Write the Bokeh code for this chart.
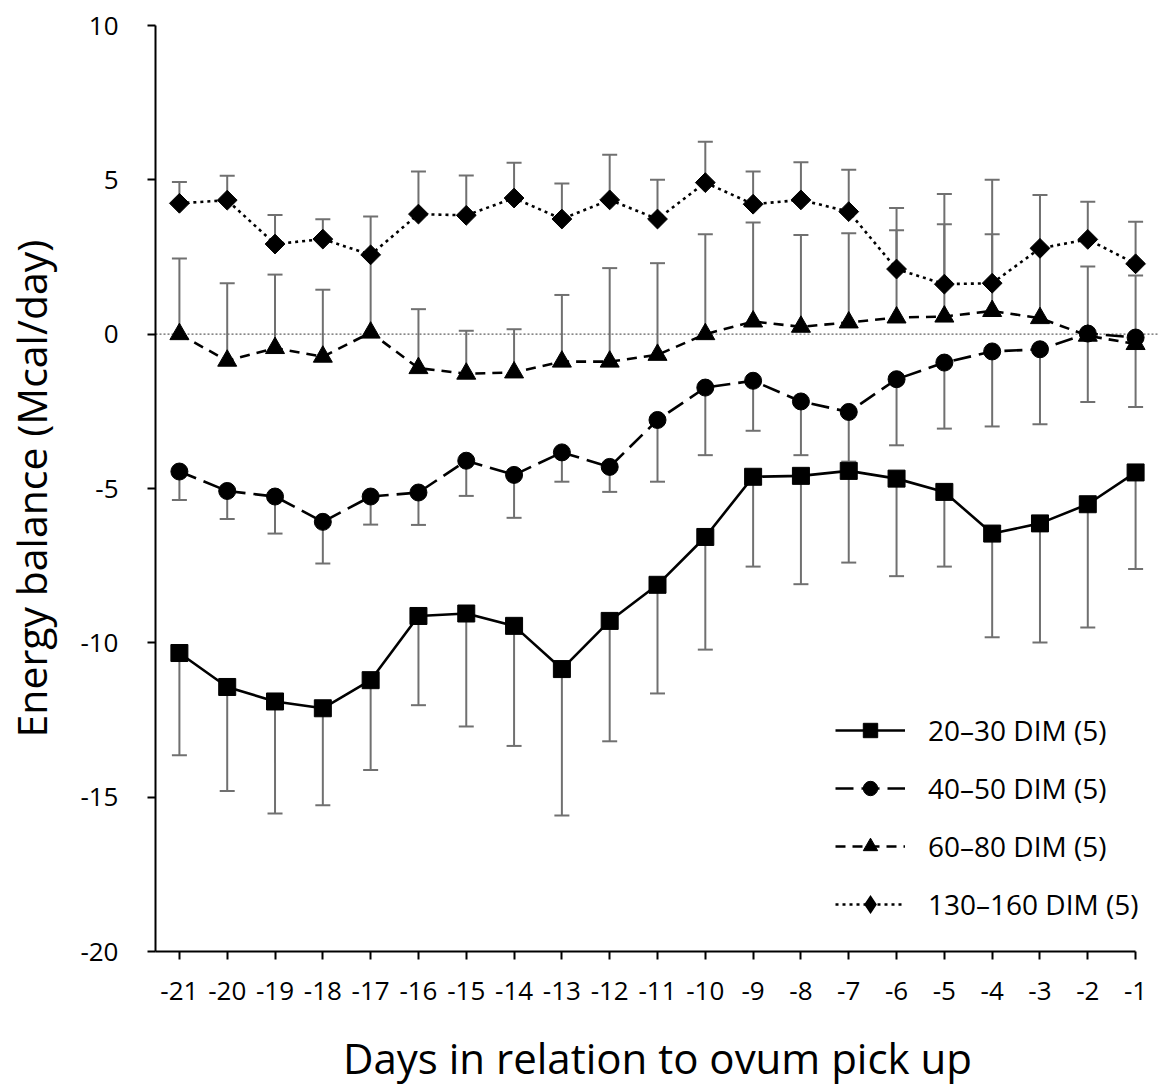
from bokeh.plotting import figure
from bokeh.models import (ColumnDataSource, Whisker, TeeHead, Span, Legend,
                          LegendItem, FixedTicker, Range1d)
from bokeh.embed import file_html
from bokeh.resources import INLINE

# ---------------- data ----------------
days = [-21, -20, -19, -18, -17, -16, -15, -14, -13, -12, -11,
        -10, -9, -8, -7, -6, -5, -4, -3, -2, -1]

labels = ["20\u201330 DIM (5)", "40\u201350 DIM (5)",
          "60\u201380 DIM (5)", "130\u2013160 DIM (5)"]

eb_20_30 = [-10.33, -11.43, -11.90, -12.12, -11.21, -9.13, -9.05, -9.45, -10.85, -9.29, -8.12,
            -6.57, -4.62, -4.59, -4.43, -4.68, -5.11, -6.46, -6.13, -5.51, -4.48]
sd_20_30 = [3.31, 3.37, 3.63, 3.14, 2.91, 2.89, 3.66, 3.89, 4.74, 3.90, 3.52,
            3.65, 2.91, 3.51, 2.97, 3.16, 2.42, 3.36, 3.86, 3.99, 3.13]

eb_40_50 = [-4.45, -5.08, -5.26, -6.08, -5.26, -5.13, -4.10, -4.56, -3.83, -4.30, -2.78,
            -1.73, -1.51, -2.18, -2.52, -1.46, -0.92, -0.56, -0.49, 0.02, -0.11]
sd_40_50 = [0.92, 0.91, 1.20, 1.35, 0.91, 1.05, 1.14, 1.39, 0.95, 0.81, 2.00,
            2.19, 1.62, 1.74, 1.61, 2.14, 2.14, 2.43, 2.43, 2.22, 2.25]

eb_60_80 = [0.00, -0.86, -0.45, -0.73, 0.05, -1.10, -1.28, -1.24, -0.89, -0.89, -0.67,
            0.00, 0.41, 0.24, 0.38, 0.54, 0.57, 0.75, 0.52, -0.05, -0.32]
sd_60_80 = [2.45, 2.51, 2.38, 2.17, 2.52, 1.91, 1.39, 1.40, 2.16, 3.03, 2.97,
            3.24, 3.21, 2.97, 2.89, 2.83, 2.99, 2.49, 2.26, 2.24, 2.22]

eb_130_160 = [4.24, 4.34, 2.92, 3.08, 2.57, 3.89, 3.85, 4.41, 3.73, 4.35, 3.73,
              4.91, 4.21, 4.35, 3.97, 2.11, 1.62, 1.65, 2.78, 3.07, 2.28]
sd_130_160 = [0.69, 0.79, 0.94, 0.64, 1.24, 1.38, 1.29, 1.14, 1.15, 1.46, 1.27,
              1.32, 1.06, 1.22, 1.36, 1.98, 2.92, 3.35, 1.73, 1.22, 1.36]

y_ticks = [-20, -15, -10, -5, 0, 5, 10]

FONT = "Open Sans"
ERR_COLOR = "#707070"

# ---------------- figure ----------------
p = figure(width=1161, height=1088,
           x_range=Range1d(-21.5, -0.5), y_range=Range1d(-20, 10),
           output_backend="svg", toolbar_location=None,
           min_border_left=155, min_border_right=2,
           min_border_top=25, min_border_bottom=136)
p.outline_line_color = None
p.xgrid.visible = False
p.ygrid.visible = False
p.background_fill_color = "white"
p.border_fill_color = "white"

for ax in (p.xaxis[0], p.yaxis[0]):
    ax.axis_line_width = 2
    ax.axis_line_color = "black"
    ax.major_tick_line_width = 2
    ax.major_tick_line_color = "black"
    ax.major_tick_out = 8
    ax.major_tick_in = 0
    ax.minor_tick_out = 0
    ax.minor_tick_in = 0
    ax.major_label_text_font = FONT
    ax.major_label_text_font_size = "26px"
    ax.major_label_text_color = "black"
    ax.axis_label_text_font = FONT
    ax.axis_label_text_font_style = "normal"
    ax.axis_label_text_color = "black"

xa = p.xaxis[0]
xa.ticker = FixedTicker(ticks=days)
xa.major_label_overrides = {d: str(d) for d in days}
xa.bounds = (-21.5, -1)
xa.axis_label = "Days in relation to ovum pick up"
xa.axis_label_text_font_size = "42px"
xa.axis_label_text_line_height = 1.0
xa.major_label_text_line_height = 1.0
xa.major_label_standoff = 22
xa.axis_label_standoff = 26

ya = p.yaxis[0]
ya.ticker = FixedTicker(ticks=y_ticks)
ya.major_label_overrides = {t: str(t) for t in y_ticks}
ya.axis_label = "Energy balance (Mcal/day)"
ya.axis_label_text_font_size = "41px"
ya.major_label_standoff = 29
ya.axis_label_standoff = 18

# zero reference line
p.add_layout(Span(location=0, dimension="width", line_color="#606060",
                  line_dash="2 2", line_width=1.2, level="underlay"))

series = [
    (labels[0], eb_20_30, sd_20_30, -1, "square", 17, 0.0, "solid"),
    (labels[1], eb_40_50, sd_40_50, -1, "circle", 17, 0.0, "18 8"),
    (labels[2], eb_60_80, sd_60_80, 1, "triangle", 19, 0.0, "10 7"),
    (labels[3], eb_130_160, sd_130_160, 1, "square", 14, 0.785398, "3 4"),
]

# error bars first (under everything)
sources = []
for lab, ys, sds, direction, mk, sz, ang, dash in series:
    if direction < 0:
        upper = list(ys)
        lower = [y - s for y, s in zip(ys, sds)]
    else:
        upper = [y + s for y, s in zip(ys, sds)]
        lower = list(ys)
    src = ColumnDataSource(dict(x=days, y=ys, upper=upper, lower=lower))
    sources.append(src)
    head = TeeHead(size=15, line_color=ERR_COLOR, line_width=2)
    w = Whisker(source=src, base="x", upper="upper", lower="lower",
                dimension="height", line_color=ERR_COLOR, line_width=2,
                level="underlay")
    if direction < 0:
        w.upper_head = None
        w.lower_head = head
    else:
        w.lower_head = None
        w.upper_head = head
    p.add_layout(w)

# legend-only swatch source (a single empty point, draws nothing in the plot)
swatch_src = ColumnDataSource(dict(x=[float("nan")], y=[float("nan")]))

items = []
for (lab, ys, sds, direction, mk, sz, ang, dash), src in zip(series, sources):
    lr = p.line("x", "y", source=src, line_color="black", line_width=2.6,
                line_dash=dash)
    mr = p.scatter("x", "y", source=src, marker=mk, size=sz, angle=ang,
                   fill_color="black", line_color="black", line_width=1)
    rends = [lr, mr]
    if ang != 0.0:
        dr = p.scatter("x", "y", source=swatch_src, marker="diamond", size=sz,
                       fill_color="black", line_color="black", line_width=2.6,
                       line_join="miter")
        rends = [lr, dr]
    items.append(LegendItem(label=lab, renderers=rends))

legend = Legend(items=items, location=(680, 28),
                glyph_width=70, glyph_height=36, spacing=20,
                label_standoff=23, padding=0, margin=0,
                border_line_color=None, background_fill_alpha=0,
                label_text_font=FONT, label_text_font_size="28px",
                label_text_color="black")
p.add_layout(legend)

open("out.html", "w").write(file_html(p, INLINE))
